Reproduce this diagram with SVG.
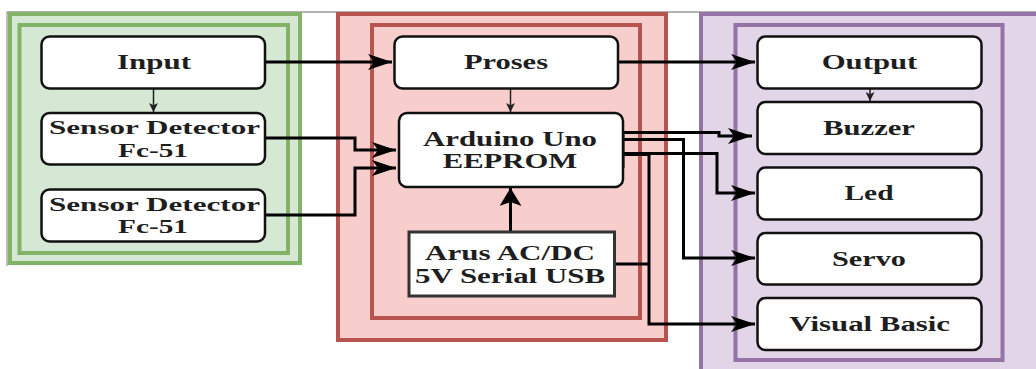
<svg xmlns="http://www.w3.org/2000/svg" width="1036" height="369" viewBox="0 0 1036 369">
<defs>
<style>
.node{fill:#fff;stroke:#111;stroke-width:2.5}
.box{fill:#fff;stroke:#333;stroke-width:3}
.t{font-family:"Liberation Serif","Times New Roman",serif;font-weight:bold;font-size:20px;fill:#1e1e1e;text-anchor:middle}
.ts{font-size:19px}
.c{fill:none;stroke:#000;stroke-width:3}
.thin{fill:none;stroke:#222;stroke-width:1.5}
</style>
<marker id="arr" viewBox="0 0 24 16" refX="24" refY="8" markerWidth="24" markerHeight="16" markerUnits="userSpaceOnUse" orient="auto">
<path d="M0,0 L24,8 L0,16 L6,8 z" fill="#000"/>
</marker>
<marker id="arrs" viewBox="0 0 10 10" refX="10" refY="5" markerWidth="9" markerHeight="9" markerUnits="userSpaceOnUse" orient="auto">
<path d="M0,0 L10,5 L0,10 L2.5,5 z" fill="#222"/>
</marker>
<marker id="arrb" viewBox="0 0 18 22" refX="18" refY="11" markerWidth="18" markerHeight="22" markerUnits="userSpaceOnUse" orient="auto">
<path d="M0,0 L18,11 L0,22 L4,11 z" fill="#000"/>
</marker>
</defs>
<rect width="1036" height="369" fill="#fff"/>
<g id="frame">
<line x1="7" y1="12" x2="1036" y2="12" stroke="#666" stroke-width="1.2"/>
<line x1="7" y1="12" x2="7" y2="266" stroke="#777" stroke-width="1"/>
</g>
<g id="group-input">
<rect x="10" y="14" width="290" height="249" fill="#d5e8d4" stroke="#82b366" stroke-width="4"/>
<rect x="19.5" y="25" width="268.5" height="228" fill="#d5e8d4" stroke="#82b366" stroke-width="4"/>
</g>
<g id="group-process">
<rect x="338" y="14" width="328" height="326" fill="#f8cecc" stroke="#b85450" stroke-width="4"/>
<rect x="372" y="25" width="268" height="293" fill="#f8cecc" stroke="#b85450" stroke-width="4"/>
</g>
<g id="group-output">
<rect x="701" y="14" width="345" height="365" fill="#e1d5e7" stroke="#9673a6" stroke-width="4"/>
<rect x="735.5" y="25" width="267" height="335" fill="#e1d5e7" stroke="#9673a6" stroke-width="4"/>
</g>
<g id="connectors">
<path class="c" d="M265,62 H392" marker-end="url(#arr)"/>
<path class="c" d="M618,62 H755" marker-end="url(#arr)"/>
<path class="c" d="M265,138 H355 V150 H396" marker-end="url(#arr)"/>
<path class="c" d="M265,215 H355 V168 H396" marker-end="url(#arr)"/>
<path class="c" d="M623,132.5 H719 V136 H752" marker-end="url(#arr)"/>
<path class="c" d="M623,139.5 H683.5 V258 H755" marker-end="url(#arr)"/>
<path class="c" d="M623,153.5 H717 V193 H755" marker-end="url(#arr)"/>
<path class="c" d="M623,154.5 H649 V324 H755" marker-end="url(#arr)"/>
<path class="c" d="M614.5,264 H649"/>
<path class="c" d="M623,131.5 V168" stroke-width="4"/>
<path class="thin" d="M153.5,88.5 V112" marker-end="url(#arrs)"/>
<path class="thin" d="M510.5,88.5 V112" marker-end="url(#arrs)"/>
<path class="thin" d="M870,88.5 V101" marker-end="url(#arrs)"/>
<path class="c" d="M510.5,232 V188" stroke-width="4" marker-end="url(#arrb)"/>
</g>
<g id="node-input">
<rect class="node" x="41.5" y="36.5" width="223.5" height="52" rx="8"/>
<text class="t" x="154" y="69" textLength="74" lengthAdjust="spacingAndGlyphs">Input</text>
</g>
<g id="node-sensor1">
<rect class="node" x="41.5" y="113" width="223.5" height="51.5" rx="8"/>
<text class="t ts" x="154.5" y="134" textLength="211" lengthAdjust="spacingAndGlyphs">Sensor Detector</text>
<text class="t ts" x="153" y="156.7" textLength="70" lengthAdjust="spacingAndGlyphs">Fc-51</text>
</g>
<g id="node-sensor2">
<rect class="node" x="41.5" y="189.5" width="223.5" height="52" rx="8"/>
<text class="t ts" x="154.5" y="210.7" textLength="211" lengthAdjust="spacingAndGlyphs">Sensor Detector</text>
<text class="t ts" x="153" y="233.3" textLength="70" lengthAdjust="spacingAndGlyphs">Fc-51</text>
</g>
<g id="node-proses">
<rect class="node" x="394.5" y="36.5" width="223.5" height="52" rx="8"/>
<text class="t" x="506" y="69" textLength="84" lengthAdjust="spacingAndGlyphs">Proses</text>
</g>
<g id="node-arduino">
<rect class="node" x="399" y="113" width="224" height="74" rx="8"/>
<text class="t" x="510" y="145.7" textLength="174" lengthAdjust="spacingAndGlyphs">Arduino Uno</text>
<text class="t" x="510" y="168.3" textLength="134.6" lengthAdjust="spacingAndGlyphs">EEPROM</text>
</g>
<g id="node-arus">
<rect class="box" x="409" y="232" width="205.5" height="64"/>
<text class="t" x="510" y="260" textLength="170" lengthAdjust="spacingAndGlyphs">Arus AC/DC</text>
<text class="t" x="510" y="282.7" textLength="190" lengthAdjust="spacingAndGlyphs">5V Serial USB</text>
</g>
<g id="node-output">
<rect class="node" x="757.5" y="36.5" width="224" height="52" rx="8"/>
<text class="t" x="869.5" y="69" textLength="95.7" lengthAdjust="spacingAndGlyphs">Output</text>
</g>
<g id="node-buzzer">
<rect class="node" x="757.5" y="102" width="224" height="52" rx="8"/>
<text class="t" x="869" y="135" textLength="92" lengthAdjust="spacingAndGlyphs">Buzzer</text>
</g>
<g id="node-led">
<rect class="node" x="757.5" y="167.5" width="224" height="52" rx="8"/>
<text class="t" x="869" y="200" textLength="49" lengthAdjust="spacingAndGlyphs">Led</text>
</g>
<g id="node-servo">
<rect class="node" x="757.5" y="233" width="224" height="51.5" rx="8"/>
<text class="t" x="869" y="265.7" textLength="74" lengthAdjust="spacingAndGlyphs">Servo</text>
</g>
<g id="node-vb">
<rect class="node" x="757.5" y="298" width="224" height="52" rx="8"/>
<text class="t" x="869.7" y="330.7" textLength="160.7" lengthAdjust="spacingAndGlyphs">Visual Basic</text>
</g>
</svg>
